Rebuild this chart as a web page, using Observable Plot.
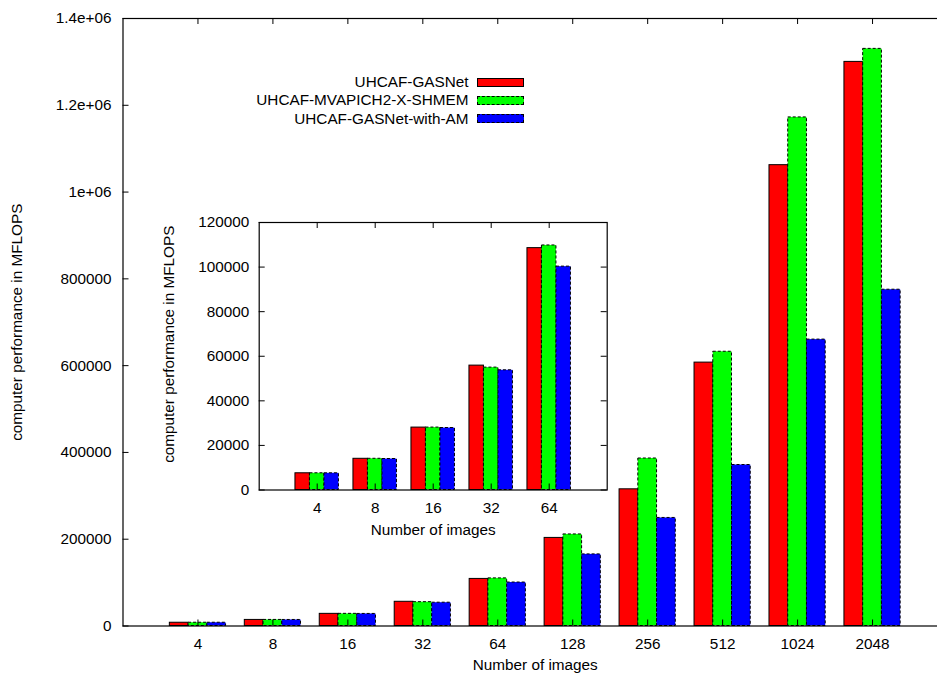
<!DOCTYPE html>
<html>
<head>
<meta charset="utf-8">
<script src="https://cdn.jsdelivr.net/npm/d3@7"></script>
<script src="https://cdn.jsdelivr.net/npm/@observablehq/plot@0.6"></script>
<style>
  body { margin: 0; background: #fff; }
  #wrap { position: relative; width: 937px; height: 674px; overflow: hidden; font-family: "Liberation Sans", Arial, sans-serif; color: #000; }
  #main, #inset { position: absolute; }
  #main { left: 0; top: 0; }
  #inset { left: 150px; top: 195px; }
  .lrow { position: absolute; left: 200px; width: 323.5px; height: 18px; display: flex; justify-content: flex-end; align-items: center; font-size: 15.3px; white-space: nowrap; }
  .lrow span.sw { display: inline-block; width: 45px; height: 7px; margin-left: 8px; }
</style>
</head>
<body>
<div id="wrap">
  <div id="main"></div>
  <div id="inset"></div>
  <div id="legend"></div>
</div>
<script>
// ---- data ----
const categories = ["4", "8", "16", "32", "64", "128", "256", "512", "1024", "2048"];
const series = ["UHCAF-GASNet", "UHCAF-MVAPICH2-X-SHMEM", "UHCAF-GASNet-with-AM"];
const gasnet   = [7500, 14000, 28000, 55800, 108500, 203000, 315000, 607000, 1062000, 1300000];
const shmem    = [7500, 14000, 28000, 54900, 109700, 211000, 386000, 632000, 1172000, 1330000];
const gasnetAM = [7500, 13900, 27800, 53700, 100200, 165000, 249000, 371000,  660000,  775000];
const colors = ["#ff0000", "#00ff00", "#0000ff"];
const mainYTicks = [0, 200000, 400000, 600000, 800000, 1000000, 1200000, 1400000];
const mainYTickLabels = ["0", "200000", "400000", "600000", "800000", "1e+06", "1.2e+06", "1.4e+06"];
const insetCategories = ["4", "8", "16", "32", "64"];
const insetYTicks = [0, 20000, 40000, 60000, 80000, 100000, 120000];
const insetYTickLabels = ["0", "20000", "40000", "60000", "80000", "100000", "120000"];
const xLabel = "Number of images";
const yLabel = "computer performance in MFLOPS";

const FONT = "'Liberation Sans', Arial, sans-serif";
const FS = 15.3;
const seriesValues = [gasnet, shmem, gasnetAM];
const BW = 0.25; // clustered histogram slot

function buildRows(cats) {
  const rows = [];
  cats.forEach((c, i) => seriesValues.forEach((vals, s) => rows.push({ci: i, si: s, cat: c, series: series[s], value: vals[i]})));
  return rows;
}

function barMarks(rows) {
  const x1 = d => d.ci + (d.si - 1) * BW - BW / 2;
  const x2 = d => d.ci + (d.si - 1) * BW + BW / 2;
  return [
    Plot.rectY(rows.filter(d => d.si === 0), {x1, x2, y1: 0, y2: "value", fill: d => colors[d.si], stroke: "black", strokeWidth: 1}),
    Plot.rectY(rows.filter(d => d.si > 0), {x1, x2, y1: 0, y2: "value", fill: d => colors[d.si], stroke: "black", strokeWidth: 1, strokeDasharray: "3,2"})
  ];
}

// ---- main chart ----
{
  const W = 937, H = 674, mL = 122.5, mR = -10, mT = 18, mB = 48.5;
  const fw = W - mL - mR, fh = H - mT - mB;
  const rows = buildRows(categories);
  const xt = d3.range(categories.length);
  const chart = Plot.plot({
    width: W, height: H, marginLeft: mL, marginRight: mR, marginTop: mT, marginBottom: mB,
    style: {fontFamily: FONT, fontSize: FS + "px", background: "transparent", color: "black", overflow: "visible"},
    x: {domain: [-1, 10], axis: null},
    y: {domain: [0, 1400000], axis: null},
    marks: [
      ...barMarks(rows),
      Plot.frame({stroke: "black", strokeWidth: 1.2}),
      Plot.tickX(xt, {x: d => d, insetTop: fh - 6, stroke: "black"}),
      Plot.tickX(xt, {x: d => d, insetBottom: fh - 6, stroke: "black"}),
      Plot.tickY(mainYTicks, {y: d => d, insetRight: fw - 6, stroke: "black"}),
      Plot.axisX({ticks: xt, tickFormat: d => categories[d], tickSize: 0, tickPadding: 12, label: null, fontSize: FS}),
      Plot.axisY({ticks: mainYTicks, tickFormat: d => mainYTickLabels[mainYTicks.indexOf(d)], tickSize: 0, tickPadding: 11.5, label: null, fontSize: FS}),
      Plot.text([yLabel], {text: d => d, frameAnchor: "left", textAnchor: "middle", lineAnchor: "middle", rotate: -90, dx: -105.5, fontSize: FS}),
      Plot.text([xLabel], {text: d => d, frameAnchor: "bottom", lineAnchor: "middle", dy: 39.5, fontSize: FS})
    ]
  });
  document.getElementById("main").appendChild(chart);
}

// ---- inset chart ----
{
  const W = 470, H = 350, mL = 108.7, mR = 13.3, mT = 27, mB = 55.5;
  const fw = W - mL - mR, fh = H - mT - mB;
  const rows = buildRows(insetCategories);
  const xt = d3.range(insetCategories.length);
  const chart = Plot.plot({
    width: W, height: H, marginLeft: mL, marginRight: mR, marginTop: mT, marginBottom: mB,
    style: {fontFamily: FONT, fontSize: FS + "px", background: "transparent", color: "black", overflow: "visible"},
    x: {domain: [-1, 5], axis: null},
    y: {domain: [0, 120000], axis: null},
    marks: [
      Plot.frame({fill: "white"}),
      ...barMarks(rows),
      Plot.frame({stroke: "black", strokeWidth: 1.2}),
      Plot.tickX(xt, {x: d => d, insetTop: fh - 6, stroke: "black"}),
      Plot.tickX(xt, {x: d => d, insetBottom: fh - 6, stroke: "black"}),
      Plot.tickY(insetYTicks, {y: d => d, insetRight: fw - 6, stroke: "black"}),
      Plot.tickY(insetYTicks, {y: d => d, insetLeft: fw - 6, stroke: "black"}),
      Plot.axisX({ticks: xt, tickFormat: d => insetCategories[d], tickSize: 0, tickPadding: 12, label: null, fontSize: FS}),
      Plot.axisY({ticks: insetYTicks, tickFormat: d => insetYTickLabels[insetYTicks.indexOf(d)], tickSize: 0, tickPadding: 10, label: null, fontSize: FS}),
      Plot.text([yLabel], {text: d => d, frameAnchor: "left", textAnchor: "middle", lineAnchor: "middle", rotate: -90, dx: -90, dy: -12, fontSize: FS}),
      Plot.text([xLabel], {text: d => d, frameAnchor: "bottom", lineAnchor: "middle", dy: 40.5, fontSize: FS})
    ]
  });
  document.getElementById("inset").appendChild(chart);
}

// ---- legend ----
{
  const legend = document.getElementById("legend");
  const centers = [82, 100.4, 118.8];
  series.forEach((name, i) => {
    const row = document.createElement("div");
    row.className = "lrow";
    row.style.top = (centers[i] - 9) + "px";
    const t = document.createElement("span");
    t.textContent = name;
    const sw = document.createElement("span");
    sw.className = "sw";
    sw.style.background = colors[i];
    sw.style.border = "1px " + (i === 0 ? "solid" : "dashed") + " #000";
    row.appendChild(t);
    row.appendChild(sw);
    legend.appendChild(row);
  });
}
</script>
</body>
</html>
